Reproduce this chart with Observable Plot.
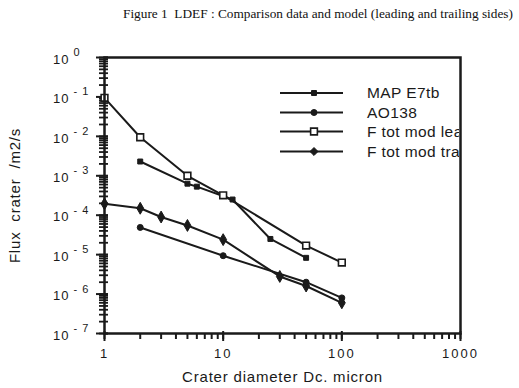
<!DOCTYPE html>
<html>
<head>
<meta charset="utf-8">
<script src="https://cdn.jsdelivr.net/npm/d3@7"></script>
<script src="https://cdn.jsdelivr.net/npm/@observablehq/plot@0.6"></script>
<style>
  html, body { margin: 0; padding: 0; background: #fff; }
  #wrap { position: relative; width: 519px; height: 388px; overflow: hidden; }
  #title { height: 30px; box-sizing: border-box; padding: 6px 0 0 123px; font: 13.3px/15px "Liberation Serif", "Times New Roman", serif; color: #111; white-space: nowrap; }
  #legend { position: absolute; left: 270px; top: 80px; width: 189px; height: 85px; overflow: hidden; }
  g.xlab text { letter-spacing: 2px; }
  g.xtitle text, g.ytitle text { letter-spacing: 0.8px; }
  g.ylab text { letter-spacing: 1px; }
</style>
</head>
<body>
<div id="wrap">
  <div id="title"></div>
  <div id="chart"></div>
  <div id="legend"></div>
</div>
<script>
// ---- data ----
const seriesNames = ["MAP E7tb", "AO138", "F tot mod lead", "F tot mod trail"];

const mapX = [2, 5, 6, 12, 25, 50];
const mapY = [2.3e-3, 6.3e-4, 5.3e-4, 2.5e-4, 2.5e-5, 8.3e-6];

const aoX = [2, 10, 50, 100];
const aoY = [4.9e-5, 9.4e-6, 2.0e-6, 8.0e-7];

const leadX = [1, 2, 5, 10, 50, 100];
const leadY = [9.5e-2, 9.5e-3, 1.0e-3, 3.2e-4, 1.7e-5, 6.3e-6];

const trailX = [1, 2, 3, 5, 10, 30, 50, 100];
const trailY = [1.95e-4, 1.5e-4, 9.0e-5, 5.5e-5, 2.4e-5, 2.8e-6, 1.6e-6, 6.0e-7];

const xMajor = [1, 10, 100, 1000];
const xTickLabels = ["1", "10", "100", "1000"];
const yMajor = [1, 1e-1, 1e-2, 1e-3, 1e-4, 1e-5, 1e-6, 1e-7];
const yExponents = ["0", "- 1", "- 2", "- 3", "- 4", "- 5", "- 6", "- 7"];

const title = "Figure 1\u00a0 LDEF : Comparison data and model (leading and trailing sides)";
const xTitle = "Crater diameter Dc. micron";
const yTitle = "Flux\u00a0 crater\u00a0 /m2/s";

// ---- build ----
document.getElementById("title").textContent = title;

const rows = (xs, ys) => xs.map((x, i) => ({x, y: ys[i]}));
const mapData = rows(mapX, mapY);
const aoData = rows(aoX, aoY);
const leadData = rows(leadX, leadY);
const trailData = rows(trailX, trailY);

const yAll = d3.scaleLog().domain([1e-7, 1]).ticks();
const xAll = d3.scaleLog().domain([1, 1000]).ticks();

const W = 519, H = 358, mT = 27, mB = 55, mL = 104, mR = 59;
const innerW = W - mL - mR, innerH = H - mT - mB;

const ink = "#1a1a1a";
const font = '"Liberation Sans", Arial, Helvetica, sans-serif';

const styles = [
  {symbol: "square", r: 2.8, fill: ink, stroke: ink, strokeWidth: 1},
  {symbol: "circle", r: 3, fill: ink, stroke: ink, strokeWidth: 1},
  {symbol: "square", r: 3.8, fill: "white", stroke: ink, strokeWidth: 1.6},
  {symbol: "diamond", r: 3.6, fill: ink, stroke: ink, strokeWidth: 1}
];
const datasets = [mapData, aoData, leadData, trailData];

const marks = [];
datasets.forEach((data) => {
  marks.push(Plot.line(data, {x: "x", y: "y", stroke: ink, strokeWidth: 2}));
});
datasets.forEach((data, k) => {
  marks.push(Plot.dot(data, {x: "x", y: "y", ...styles[k]}));
});

const chart = Plot.plot({
  width: W,
  height: H,
  marginTop: mT,
  marginBottom: mB,
  marginLeft: mL,
  marginRight: mR,
  style: {fontFamily: font, color: ink, background: "white"},
  x: {type: "log", domain: [1, 1000], label: null, axis: null},
  y: {type: "log", domain: [1e-7, 1], label: null, axis: null},
  marks: [
    // y-axis ticks straddling the left frame edge
    Plot.tickY(yAll, {y: d => d, insetRight: innerW - 9, dx: -5, stroke: ink, strokeWidth: 1.8}),
    Plot.tickY(yMajor, {y: d => d, insetRight: innerW - 12, dx: -8, stroke: ink, strokeWidth: 2}),
    // x-axis ticks below the bottom frame edge
    Plot.tickX(xAll, {x: d => d, insetTop: innerH - 6, dy: 6, stroke: ink, strokeWidth: 2}),
    Plot.tickX(xMajor, {x: d => d, insetTop: innerH - 10, dy: 8, stroke: ink, strokeWidth: 2}),
    // x tick labels
    Plot.text(xMajor, {x: d => d, frameAnchor: "bottom", lineAnchor: "top", dy: 15, text: (d, i) => xTickLabels[i], fontSize: 13, fill: ink, className: "xlab"}),
    // y labels: 10 with raised exponent
    Plot.text(yMajor, {y: d => d, frameAnchor: "left", text: () => "10", dx: -35, dy: 2, textAnchor: "end", fontSize: 13, fill: ink, className: "ylab"}),
    Plot.text(yMajor, {y: d => d, frameAnchor: "left", text: (d, i) => yExponents[i], dx: -31, dy: -5, textAnchor: "start", fontSize: 11, fill: ink, className: "ylab"}),
    // axis titles
    Plot.text([xTitle], {text: d => d, frameAnchor: "bottom", dy: 48, fontSize: 15, fill: ink, className: "xtitle"}),
    Plot.text([yTitle], {text: d => d, frameAnchor: "left", dx: -89, rotate: -90, textAnchor: "middle", fontSize: 15, fill: ink, className: "ytitle"}),
    ...marks,
    Plot.frame({stroke: ink, strokeWidth: 2.5})
  ]
});
document.getElementById("chart").appendChild(chart);

// ---- legend (overlay inside plot area, clipped by the right frame edge) ----
const lg = d3.select("#legend").append("svg").attr("width", 189).attr("height", 85)
  .style("font-family", font);
const rowY = [13, 32.5, 51.5, 71.5];
seriesNames.forEach((name, k) => {
  const g = lg.append("g").attr("transform", `translate(0,${rowY[k]})`);
  g.append("line").attr("x1", 10).attr("x2", 73).attr("y1", 0).attr("y2", 0)
    .attr("stroke", ink).attr("stroke-width", 2);
  const s = styles[k];
  const sym = s.symbol === "square" ? d3.symbolSquare : s.symbol === "circle" ? d3.symbolCircle : d3.symbolDiamond2;
  g.append("path").attr("d", d3.symbol(sym, Math.PI * s.r * s.r)())
    .attr("transform", "translate(44,0)")
    .attr("fill", s.fill).attr("stroke", s.stroke).attr("stroke-width", s.strokeWidth);
  g.append("text").attr("x", 97).attr("y", 0).attr("dy", "0.35em")
    .attr("font-size", 15.5).attr("letter-spacing", "0.4px").attr("fill", ink).text(name);
});
</script>
</body>
</html>
